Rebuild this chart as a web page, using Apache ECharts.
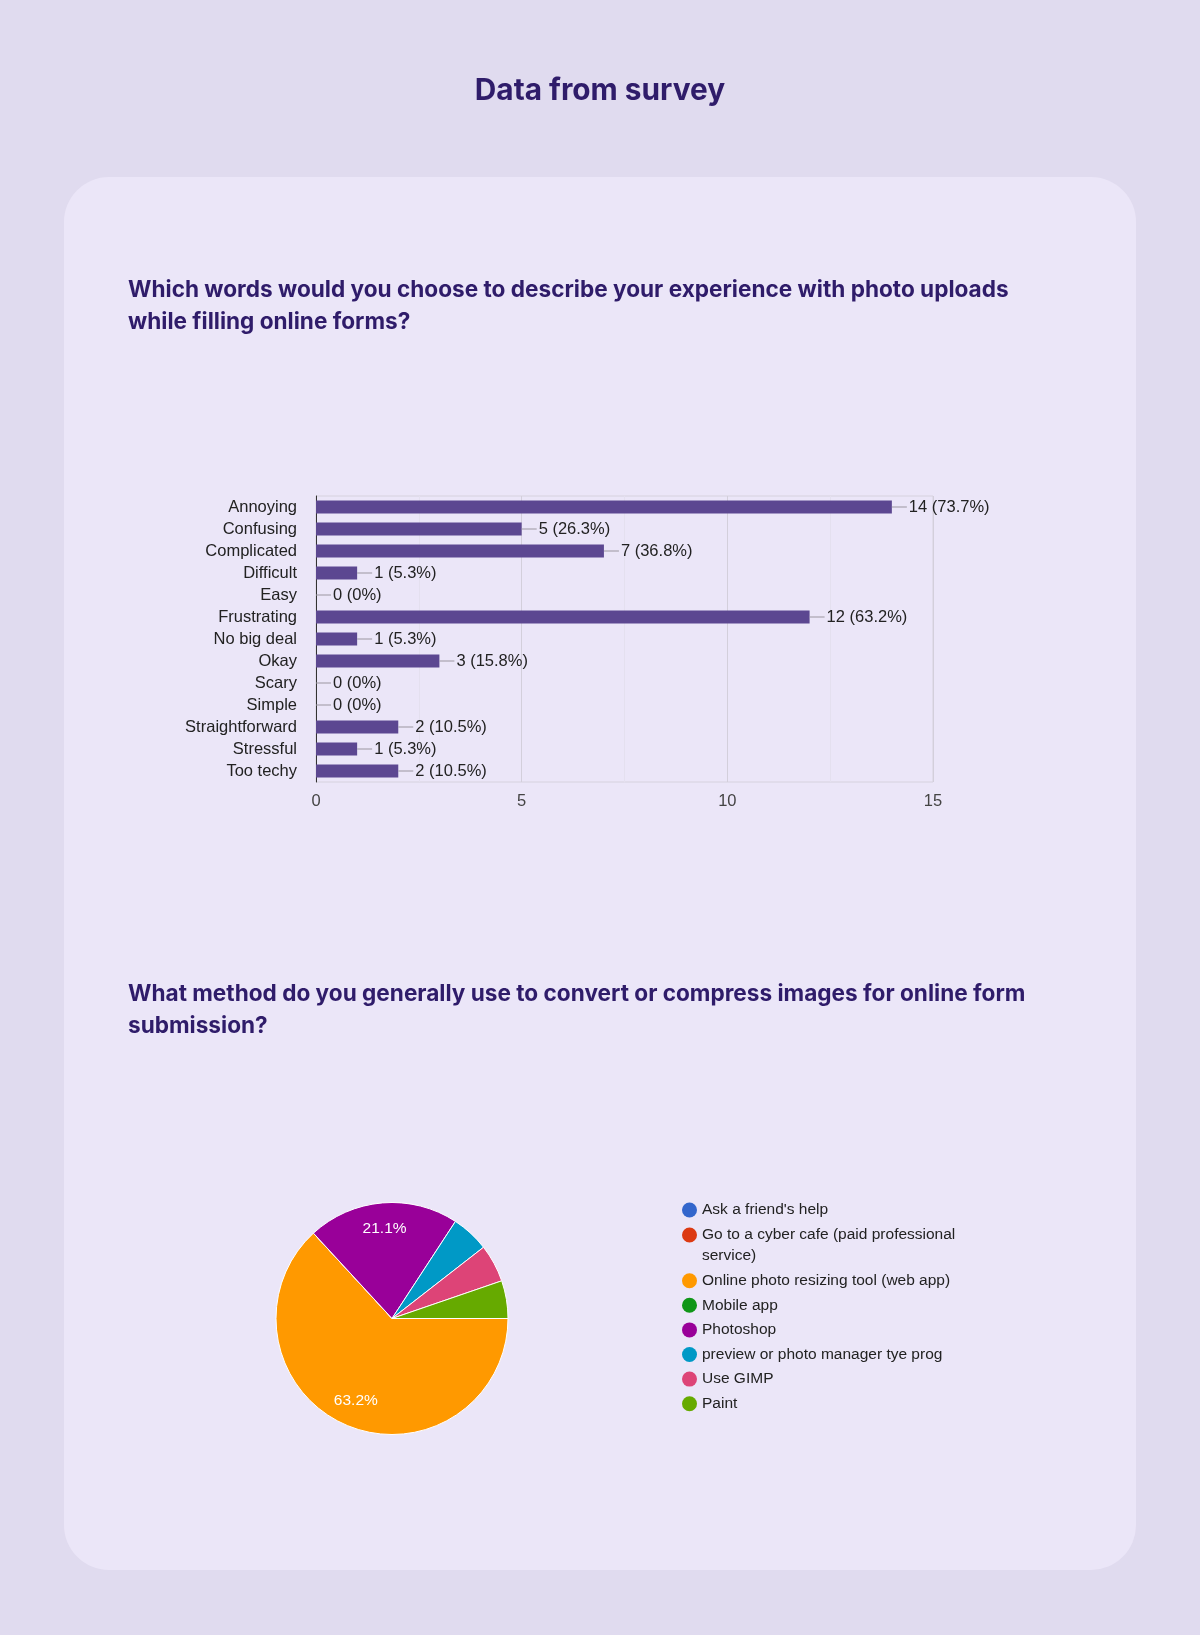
<!DOCTYPE html>
<html>
<head>
<meta charset="utf-8">
<title>Data from survey</title>
<script src="https://cdn.jsdelivr.net/npm/echarts@6/dist/echarts.min.js"></script>
<style>
  html, body { margin: 0; padding: 0; background: #e0dbef; }
  #chart { width: 1200px; height: 1635px; }
</style>
</head>
<body>
<div id="chart"></div>
<script>
// survey answers
const wordCategories = ["Annoying", "Confusing", "Complicated", "Difficult", "Easy", "Frustrating", "No big deal", "Okay", "Scary", "Simple", "Straightforward", "Stressful", "Too techy"]
const wordCounts = [14, 5, 7, 1, 0, 12, 1, 3, 0, 0, 2, 1, 2]
const respondents = 19
const xTicks = [0, 5, 10, 15]

const methodNames = ["Ask a friend's help", "Go to a cyber cafe (paid professional service)", "Online photo resizing tool (web app)", "Mobile app", "Photoshop", "preview or photo manager tye prog", "Use GIMP", "Paint"]
const methodCounts = [0, 0, 12, 0, 4, 1, 1, 1]

const methodTotal = methodCounts.reduce((a, b) => a + b, 0)
const pct = (v, total) => Math.round(v / total * 1000) / 10

const headFont = "Inter, 'Noto Sans', sans-serif"
const chartFont = "Arial, 'Liberation Sans', sans-serif"
const ink = "#2f1c6a"

const chart = echarts.init(document.getElementById("chart"), null, { renderer: "canvas" })

const legendText = { color: "#222", fontSize: 15.5, lineHeight: 21, fontFamily: chartFont }
const legendBase = {
  orient: "vertical", left: 682, padding: 0, icon: "circle",
  itemWidth: 15, itemHeight: 15, itemGap: 3.6, selectedMode: false,
  itemStyle: { borderWidth: 0 }, textStyle: legendText
}
// dot sitting at the top of a taller box, so a wrapped name keeps its first line beside it
const topDot = "path://M0 7.5A7.5 7.5 0 1 1 15 7.5A7.5 7.5 0 1 1 0 7.5ZM7 36L8 36"

chart.setOption({
  backgroundColor: "#e0dbef",
  color: ["#3366cc", "#dc3912", "#ff9900", "#109618", "#990099", "#0099c6", "#dd4477", "#66aa00"],
  graphic: [
    { type: "rect", z: -10, shape: { x: 64, y: 177, width: 1072, height: 1393, r: 45 }, style: { fill: "#ebe6f8" } }
  ],
  title: [
    { text: "Data from survey", left: "center", top: 74, padding: 0, textStyle: { color: ink, fontFamily: headFont, fontWeight: 700, fontSize: 29.8, lineHeight: 34 } },
    { text: "Which words would you choose to describe your experience with photo uploads\nwhile filling online forms?", left: 128, top: 274, padding: 0, textStyle: { color: ink, fontFamily: headFont, fontWeight: 700, fontSize: 22.6, lineHeight: 32 } },
    { text: "What method do you generally use to convert or compress images for online form\nsubmission?", left: 128, top: 978, padding: 0, textStyle: { color: ink, fontFamily: headFont, fontWeight: 700, fontSize: 22.6, lineHeight: 32 } }
  ],
  grid: { left: 316, top: 496, width: 617, height: 286, show: true, borderColor: "#d6d2de", borderWidth: 1, backgroundColor: "transparent" },
  xAxis: {
    type: "value",
    min: xTicks[0],
    max: xTicks[xTicks.length - 1],
    interval: 5,
    axisLine: { show: false },
    axisTick: { show: false },
    axisLabel: { color: "#444", fontSize: 16.5, fontFamily: chartFont, margin: 11 },
    splitLine: { lineStyle: { color: "#d3cfdb" } },
    minorTick: { show: false, splitNumber: 2 },
    minorSplitLine: { show: true, lineStyle: { color: "#e4e0ef" } }
  },
  yAxis: {
    type: "category",
    inverse: true,
    data: wordCategories,
    axisLine: { show: true, lineStyle: { color: "#333", width: 1 } },
    axisTick: { show: false },
    axisLabel: { interval: 0, color: "#222", fontSize: 16.5, fontFamily: chartFont, margin: 19 }
  },
  legend: [
    Object.assign({}, legendBase, { top: 1199.5, data: [methodNames[0]] }),
    Object.assign({}, legendBase, {
      top: 1224.5,
      itemHeight: 36,
      data: [{ name: methodNames[1], icon: topDot }],
      textStyle: Object.assign({}, legendText, { width: 262, overflow: "break" })
    }),
    Object.assign({}, legendBase, { top: 1270.2, data: methodNames.slice(2) })
  ],
  series: [
    {
      type: "bar",
      data: wordCounts,
      barWidth: "58%",
      itemStyle: { color: "#5c4791" },
      label: {
        show: true,
        position: "right",
        distance: 0,
        formatter: p => "{l| }{t|" + p.value + " (" + pct(p.value, respondents) + "%)}",
        rich: {
          l: { width: 15, height: 1, backgroundColor: "#9a97a0" },
          t: { color: "#222", fontSize: 16.5, fontFamily: chartFont, padding: [0, 0, 0, 2] }
        }
      }
    },
    {
      type: "pie",
      center: [392, 1318.5],
      radius: 116,
      startAngle: 0,
      data: methodNames.map((n, i) => ({ name: n, value: methodCounts[i] })),
      itemStyle: { borderColor: "#ffffff", borderWidth: 1 },
      label: { show: false },
      labelLine: { show: false },
      emphasis: { disabled: true }
    },
    {
      // invisible copy, only used to place the percent labels further out
      type: "pie",
      center: [392, 1318.5],
      radius: 174,
      startAngle: 0,
      silent: true,
      data: methodNames.map((n, i) => ({ name: n, value: methodCounts[i] })),
      itemStyle: { color: "rgba(0,0,0,0)", borderWidth: 0 },
      label: {
        show: true,
        position: "inside",
        color: "#fff",
        fontSize: 15.5,
        fontFamily: chartFont,
        formatter: p => (p.value / methodTotal > 0.1 ? pct(p.value, methodTotal) + "%" : "")
      },
      labelLine: { show: false },
      emphasis: { disabled: true }
    }
  ]
})
</script>
</body>
</html>
